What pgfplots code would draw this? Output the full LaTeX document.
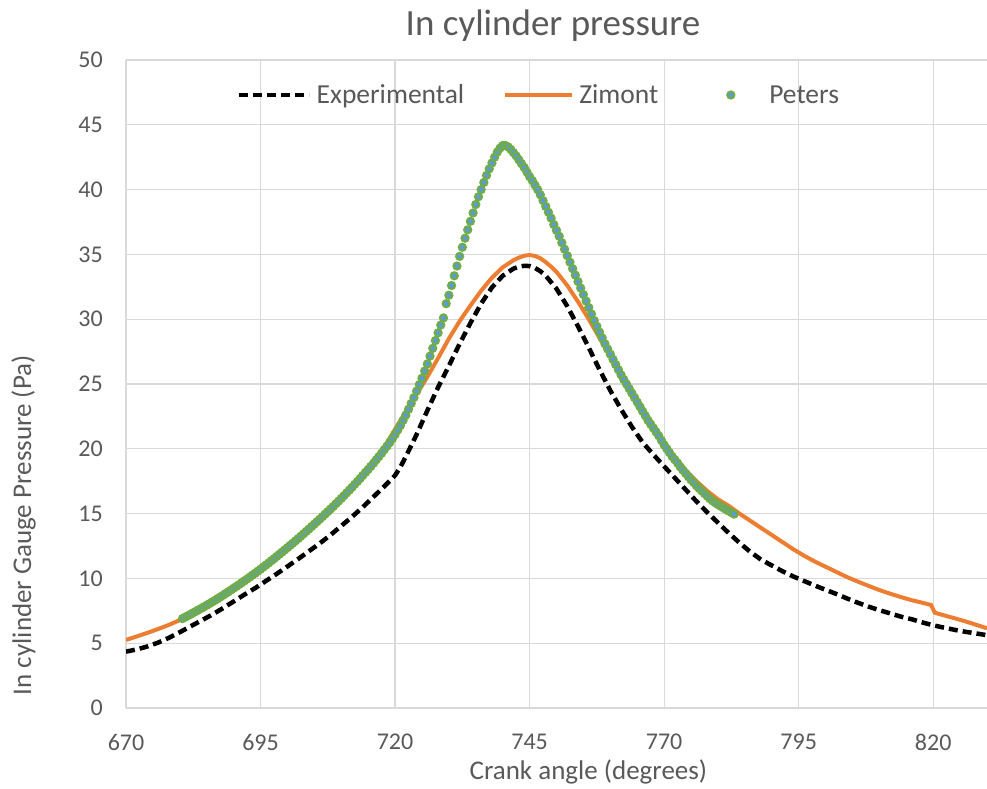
\documentclass[border=0pt]{standalone}
\usepackage{fontspec}
\setmainfont{Carlito}
\usepackage{pgfplots}
\pgfplotsset{compat=1.18}
\definecolor{txt}{HTML}{595959}
\definecolor{gridc}{HTML}{D9D9D9}
\definecolor{zim}{HTML}{ED7D31}
\definecolor{petG}{HTML}{70AD47}
\definecolor{petB}{HTML}{5B9BD5}
\pgfplotsset{
  lineleg/.style={legend image code/.code={\draw[##1] (0pt,0pt) -- (#1,0pt);}},
  markleg/.style={legend image code/.code={\path[draw=none,fill=none] (0pt,-1pt) rectangle (67pt,1pt);\draw[mark repeat=2,mark phase=2,##1] plot coordinates {(0pt,0pt) (33.5pt,0pt) (67pt,0pt)};}},
}
\begin{document}
\begin{tikzpicture}
\useasboundingbox (0,0) rectangle (987pt,789pt);
\node[font=\fontsize{37}{44}\selectfont, text=txt, anchor=base] at (553pt,753pt) {In cylinder pressure};
\begin{axis}[
  at={(126pt,81pt)}, anchor=south west,
  scale only axis, width=861pt, height=648pt,
  xmin=670, xmax=830, ymin=0, ymax=50,
  xtick={670,695,720,745,770,795,820},
  ytick={0,5,10,15,20,25,30,35,40,45,50},
  grid=major, major grid style={gridc, line width=1.2pt},
  axis x line*=bottom, axis y line*=left,
  axis line style={gridc, line width=1.2pt, -},
  major tick length=0pt,
  /pgf/number format/assume math mode=true,
  tick label style={font=\fontsize{24}{28}\selectfont, text=txt, inner sep=0pt},
  xticklabel style={anchor=north, yshift=-26pt},
  yticklabel style={anchor=east, xshift=-23pt},
  xlabel={Crank angle (degrees)},
  ylabel={In cylinder Gauge Pressure (Pa)},
  label style={font=\fontsize{27}{32}\selectfont, text=txt},
  xlabel style={at={(axis description cs:0.537,-0.1096)}, anchor=base},
  ylabel style={at={(axis description cs:-0.1103,0.282)}, anchor=base},
  legend columns=3,
  legend style={at={(axis description cs:0.1289,0.946)}, anchor=west,
    draw=none, fill=none, inner sep=0pt,
    font=\fontsize{27.5}{32}\selectfont, text=txt,
    nodes={inner sep=0pt},
    /tikz/every odd column/.append style={column sep=5pt},
    /tikz/every even column/.append style={column sep=39pt}},
]
\addplot[black, line width=4.5pt, dash pattern=on 9pt off 5pt, lineleg=70pt]
coordinates {
(670,4.35) (672,4.52) (674,4.75) (676,5.05) (678,5.42) (680,5.85) (682,6.3)
(684,6.75) (686,7.2) (688,7.7) (690,8.22) (692,8.75) (694,9.25) (696,9.8)
(698,10.35) (700,10.92) (702,11.5) (704,12.1) (706,12.7) (708,13.35)
(710,14.05) (712,14.75) (714,15.5) (716,16.3) (718,17.1) (720,17.95)
(721,18.6) (722,19.4) (724,21.1) (726,22.95) (728,24.75) (730,26.4)
(732,28.1) (734,29.7) (736,31.2) (738,32.45) (740,33.35) (742,33.9)
(743,34.05) (744,34.12) (745,34.1) (746,33.95) (747,33.7) (748,33.35)
(750,32.35) (752,31.0) (754,29.45) (756,27.8) (758,26.1) (760,24.5)
(762,23.05) (764,21.7) (766,20.5) (768,19.55) (770,18.65) (772,17.75)
(774,16.85) (776,15.95) (778,15.1) (780,14.3) (782,13.5) (784,12.75)
(786,12.05) (788,11.45) (790,11.0) (792,10.55) (794,10.15) (796,9.8)
(798,9.45) (800,9.12) (802,8.8) (804,8.45) (806,8.12) (808,7.82)
(810,7.55) (812,7.3) (814,7.05) (816,6.85) (818,6.6) (820,6.38)
(822,6.2) (824,6.03) (826,5.88) (828,5.75) (830,5.62)
};
\addlegendentry{Experimental}
\addplot[zim, line width=4pt, lineleg=67pt]
coordinates {
(670,5.25) (672,5.52) (674,5.8) (676,6.1) (678,6.42) (680,6.78) (682,7.2)
(684,7.7) (686,8.2) (688,8.72) (690,9.26) (692,9.83) (694,10.42)
(696,11.05) (698,11.7) (700,12.4) (702,13.1) (704,13.85) (706,14.62)
(708,15.42) (710,16.25) (712,17.12) (714,18.05) (716,19.05) (718,20.15)
(720,21.5) (722,22.85) (724,24.2) (726,25.55) (728,27.0) (730,28.5)
(732,29.85) (734,31.05) (736,32.2) (738,33.2) (740,34.0) (742,34.55)
(743,34.75) (744,34.9) (745,34.95) (746,34.88) (747,34.7) (748,34.4)
(749,34.05) (750,33.65) (752,32.6) (754,31.35) (756,30.0) (758,28.55)
(760,27.15) (762,25.75) (764,24.4) (766,23.1) (768,21.8) (770,20.5)
(772,19.35) (774,18.35) (776,17.5) (778,16.75) (780,16.1) (782,15.6)
(784,15.0) (786,14.45) (788,13.9) (790,13.35) (792,12.8) (794,12.25)
(796,11.75) (798,11.3) (800,10.9) (802,10.5) (804,10.1) (806,9.75)
(808,9.42) (810,9.1) (812,8.82) (814,8.56) (816,8.32) (818,8.12)
(819.6,7.95) (820.3,7.35) (822,7.15) (824,6.92) (826,6.68) (828,6.42)
(830,6.15)
};
\addlegendentry{Zimont}
\addplot[only marks, mark=*, mark size=3.6pt,
  mark options={fill=petB, draw=petG, line width=2pt}, markleg]
table {
x y
680.5 6.90
681.0 7.01
681.5 7.12
682.0 7.23
682.5 7.35
683.0 7.46
683.5 7.58
684.0 7.69
684.5 7.81
685.0 7.93
685.5 8.05
686.0 8.18
686.5 8.30
687.0 8.43
687.5 8.56
688.0 8.69
688.5 8.83
689.0 8.96
689.5 9.10
690.0 9.24
690.5 9.38
691.0 9.52
691.5 9.66
692.0 9.81
692.5 9.95
693.0 10.10
693.5 10.25
694.0 10.40
694.5 10.56
695.0 10.71
695.5 10.87
696.0 11.03
696.5 11.19
697.0 11.36
697.5 11.52
698.0 11.69
698.5 11.86
699.0 12.03
699.5 12.20
700.0 12.37
700.5 12.55
701.0 12.72
701.5 12.90
702.0 13.08
702.5 13.26
703.0 13.44
703.5 13.63
704.0 13.81
704.5 14.00
705.0 14.19
705.5 14.38
706.0 14.57
706.5 14.76
707.0 14.96
707.5 15.15
708.0 15.35
708.5 15.55
709.0 15.76
709.5 15.96
710.0 16.17
710.5 16.38
711.0 16.60
711.5 16.81
712.0 17.03
712.5 17.26
713.0 17.48
713.5 17.71
714.0 17.94
714.5 18.18
715.0 18.41
715.5 18.65
716.0 18.89
716.5 19.15
717.0 19.40
717.5 19.66
718.0 19.93
718.5 20.20
719.0 20.48
719.5 20.78
720.0 21.10
720.5 21.45
721.0 21.80
721.5 22.20
722.0 22.60
722.5 23.05
723.0 23.50
723.5 23.95
724.0 24.45
724.5 24.95
725.0 25.45
725.5 26.00
726.0 26.55
726.5 27.15
727.0 27.75
727.5 28.35
728.0 28.95
728.5 29.55
729.0 30.10
729.5 31.20
730.0 31.85
730.5 32.60
731.0 33.35
731.5 34.10
732.0 34.85
732.5 35.55
733.0 36.25
733.5 36.90
734.0 37.55
734.5 38.20
735.0 38.85
735.5 39.45
736.0 40.00
736.5 40.55
737.0 41.10
737.5 41.60
738.0 42.05
738.5 42.50
739.0 42.90
739.5 43.20
740.0 43.40
740.5 43.40
741.0 43.30
741.5 43.10
742.0 42.85
742.5 42.60
743.0 42.30
743.5 42.00
744.0 41.70
744.5 41.35
745.0 41.00
745.5 40.70
746.0 40.35
746.5 40.00
747.0 39.60
747.5 39.15
748.0 38.70
748.5 38.25
749.0 37.80
749.5 37.30
750.0 36.85
750.5 36.40
751.0 35.90
751.5 35.40
752.0 34.90
752.5 34.40
753.0 33.90
753.5 33.40
754.0 32.90
754.5 32.40
755.0 31.90
755.5 31.40
756.0 30.90
756.5 30.40
757.0 29.90
757.5 29.45
758.0 29.00
758.5 28.55
759.0 28.10
759.5 27.70
760.0 27.30
760.5 26.90
761.0 26.50
761.5 26.10
762.0 25.70
762.5 25.35
763.0 25.00
763.5 24.65
764.0 24.30
764.5 23.95
765.0 23.60
765.5 23.25
766.0 22.90
766.5 22.55
767.0 22.20
767.5 21.90
768.0 21.60
768.5 21.30
769.0 21.00
769.5 20.65
770.0 20.30
770.5 20.00
771.0 19.70
771.5 19.40
772.0 19.15
772.5 18.90
773.0 18.60
773.5 18.35
774.0 18.10
774.5 17.85
775.0 17.60
775.5 17.40
776.0 17.15
776.5 16.95
777.0 16.75
777.5 16.55
778.0 16.35
778.5 16.15
779.0 15.98
779.5 15.84
780.0 15.70
780.5 15.58
781.0 15.45
781.5 15.32
782.0 15.20
782.5 15.08
783.0 14.96
};
\addlegendentry{Peters}
\end{axis}
\end{tikzpicture}
\end{document}
